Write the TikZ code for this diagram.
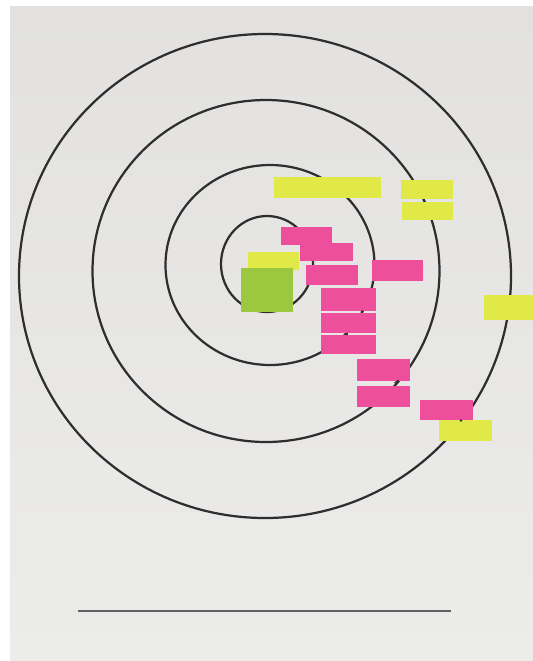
\documentclass[tikz,border=0pt]{standalone}
\usepackage{tikz}
\usetikzlibrary{arrows,shapes}

\definecolor{paper}{HTML}{E2E1DF}
\definecolor{paperlow}{HTML}{ECECEB}
\definecolor{ink}{HTML}{2E2E2E}
\definecolor{pinknote}{HTML}{EE4F9C}
\definecolor{yellownote}{HTML}{E1E948}
\definecolor{greennote}{HTML}{9CC83F}

\begin{document}
\begin{tikzpicture}[x=0.03cm,y=-0.03cm,
		note/.style={inner sep=0pt,outer sep=0pt},
		pinkie/.style={note,fill=pinknote},
		yellie/.style={note,fill=yellownote},
		greenie/.style={note,fill=greennote},
		ring/.style={draw=ink,line width=1.9pt},
		tack/.style={fill=ink}]
		\useasboundingbox (0,0) rectangle (533,661);
		\fill[white] (0,0) rectangle (533,661);
		\shade[top color=paper,bottom color=paperlow] (10,6) rectangle (533,661);
		% the target
		\draw[ring] (265,276) ellipse [x radius=246,y radius=242];
		\draw[ring] (266,271) ellipse [x radius=173.5,y radius=171];
		\draw[ring] (270,265) ellipse [x radius=104.5,y radius=100];
		\draw[ring] (267,264) ellipse [x radius=46,y radius=48];
		\draw[draw=gray!75!black,line width=1.8pt] (78,611) -- (451,611);
		% yellow notes
		\node[yellie,minimum width=107*0.03cm,minimum height=21*0.03cm] (Strat) at (327.5,187.5) {};
		\node[yellie,minimum width=52*0.03cm,minimum height=19*0.03cm] (StoughA) at (427,189.5) {};
		\node[yellie,minimum width=51*0.03cm,minimum height=18*0.03cm] (StoughB) at (427.5,211) {};
		\node[yellie,minimum width=49*0.03cm,minimum height=25*0.03cm] (Mines) at (508.5,307.5) {};
		\node[yellie,minimum width=53*0.03cm,minimum height=21*0.03cm] (Bottom) at (465.5,430.5) {};
		\node[yellie,minimum width=51*0.03cm,minimum height=18*0.03cm] (Core) at (273.5,261) {};
		% green notes
		\node[greenie,minimum width=52*0.03cm,minimum height=20*0.03cm] (GreenA) at (267,278) {};
		\node[greenie,minimum width=52*0.03cm,minimum height=24*0.03cm] (GreenB) at (267,300) {};
		% pink notes
		\node[pinkie,minimum width=51*0.03cm,minimum height=18*0.03cm] (PinkA) at (306.5,236) {};
		\node[pinkie,minimum width=53*0.03cm,minimum height=18*0.03cm] (PinkB) at (326.5,252) {};
		\node[pinkie,minimum width=52*0.03cm,minimum height=20*0.03cm] (PinkC) at (332,275) {};
		\node[pinkie,minimum width=51*0.03cm,minimum height=21*0.03cm] (PinkD) at (397.5,270.5) {};
		\node[pinkie,minimum width=55*0.03cm,minimum height=23*0.03cm] (PinkE) at (348.5,299.5) {};
		\node[pinkie,minimum width=55*0.03cm,minimum height=20*0.03cm] (PinkF) at (348.5,323) {};
		\node[pinkie,minimum width=55*0.03cm,minimum height=19*0.03cm] (PinkG) at (348.5,344.5) {};
		\node[pinkie,minimum width=53*0.03cm,minimum height=22*0.03cm] (PinkH) at (383.5,370) {};
		\node[pinkie,minimum width=53*0.03cm,minimum height=21*0.03cm] (PinkI) at (383.5,396.5) {};
		\node[pinkie,minimum width=53*0.03cm,minimum height=20*0.03cm] (PinkJ) at (446.5,410) {};
		% pins joining the stacked notes
		\fill[tack] (StoughA.south) ++(-3,1.5) circle (1.3);
		\fill[tack] (PinkE.south) ++(13.5,0.5) circle (1.3);
		\fill[tack] (PinkF.south) ++(-1.5,1) circle (1.3);
		\draw[ink,line width=0.9pt] (PinkH.south) ++(11,2) -- ++(4,-3);
		\fill[tack] (PinkJ.south) ++(14.5,0.5) circle (1.3);
	\end{tikzpicture}
\end{document}
